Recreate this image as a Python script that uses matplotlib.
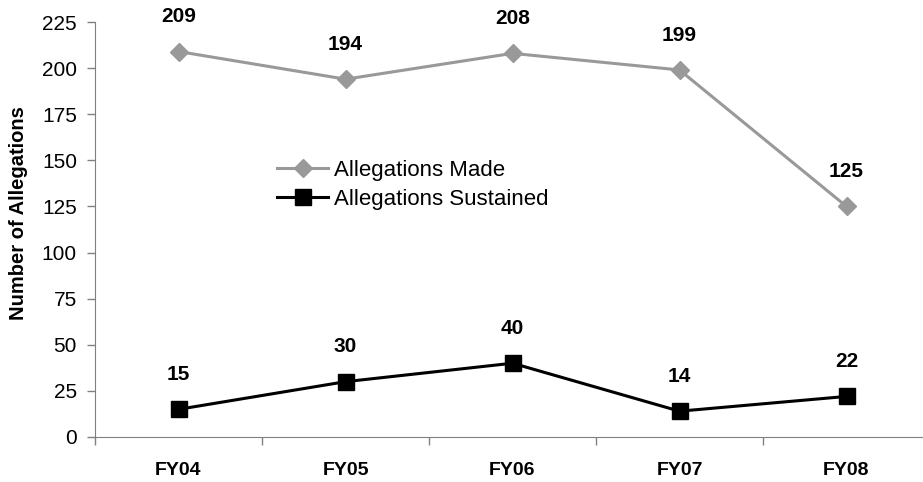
import matplotlib
matplotlib.use("Agg")
import matplotlib.pyplot as plt
from matplotlib.ticker import FixedLocator

plt.rcParams['font.family'] = ['Liberation Sans', 'DejaVu Sans']

years = ["FY04", "FY05", "FY06", "FY07", "FY08"]
made = [209, 194, 208, 199, 125]
sustained = [15, 30, 40, 14, 22]
y_ticks = [0, 25, 50, 75, 100, 125, 150, 175, 200, 225]

fig = plt.figure(figsize=(9.23, 4.82), dpi=100)
ax = fig.add_axes([95 / 923, 1 - 437 / 482, 835 / 923, 415 / 482])

x = list(range(len(years)))
ax.plot(x, made, color="#999999", lw=2.2, marker="D", ms=9.5, label="Allegations Made")
ax.plot(x, sustained, color="black", lw=2.2, marker="s", ms=12, label="Allegations Sustained")

for xi, v in zip(x, made):
    ax.annotate(str(v), (xi, v), xytext=(0, 25), textcoords="offset points",
                ha="center", va="center", fontsize=15, fontweight="bold")
for xi, v in zip(x, sustained):
    ax.annotate(str(v), (xi, v), xytext=(0, 25), textcoords="offset points",
                ha="center", va="center", fontsize=15, fontweight="bold")

ax.set_xlim(-0.5, len(years) - 0.5)
ax.set_ylim(0, 225)
ax.set_yticks(y_ticks)
ax.tick_params(axis="y", labelsize=15, length=6, width=1, color="#808080", pad=7)

ax.set_xticks(x)
ax.set_xticklabels(years, fontsize=14, fontweight="bold")
ax.tick_params(axis="x", which="major", length=0, pad=18)
ax.xaxis.set_minor_locator(FixedLocator([i - 0.5 for i in range(len(years) + 1)]))
ax.tick_params(axis="x", which="minor", length=6, width=1, color="#808080")

for s in ["top", "right"]:
    ax.spines[s].set_visible(False)
for s in ["left", "bottom"]:
    ax.spines[s].set_color("#808080")

ax.set_ylabel("Number of Allegations", fontsize=14.5, fontweight="bold")
ax.yaxis.set_label_coords(-0.08, 0.54)

ax.legend(loc="upper left", bbox_to_anchor=((277 - 95) / 835, (437 - 160) / 415),
          frameon=False, fontsize=16, handlelength=2.3, handletextpad=0.25,
          labelspacing=0.35, borderpad=0, borderaxespad=0)

fig.savefig("out.png", dpi=100)
